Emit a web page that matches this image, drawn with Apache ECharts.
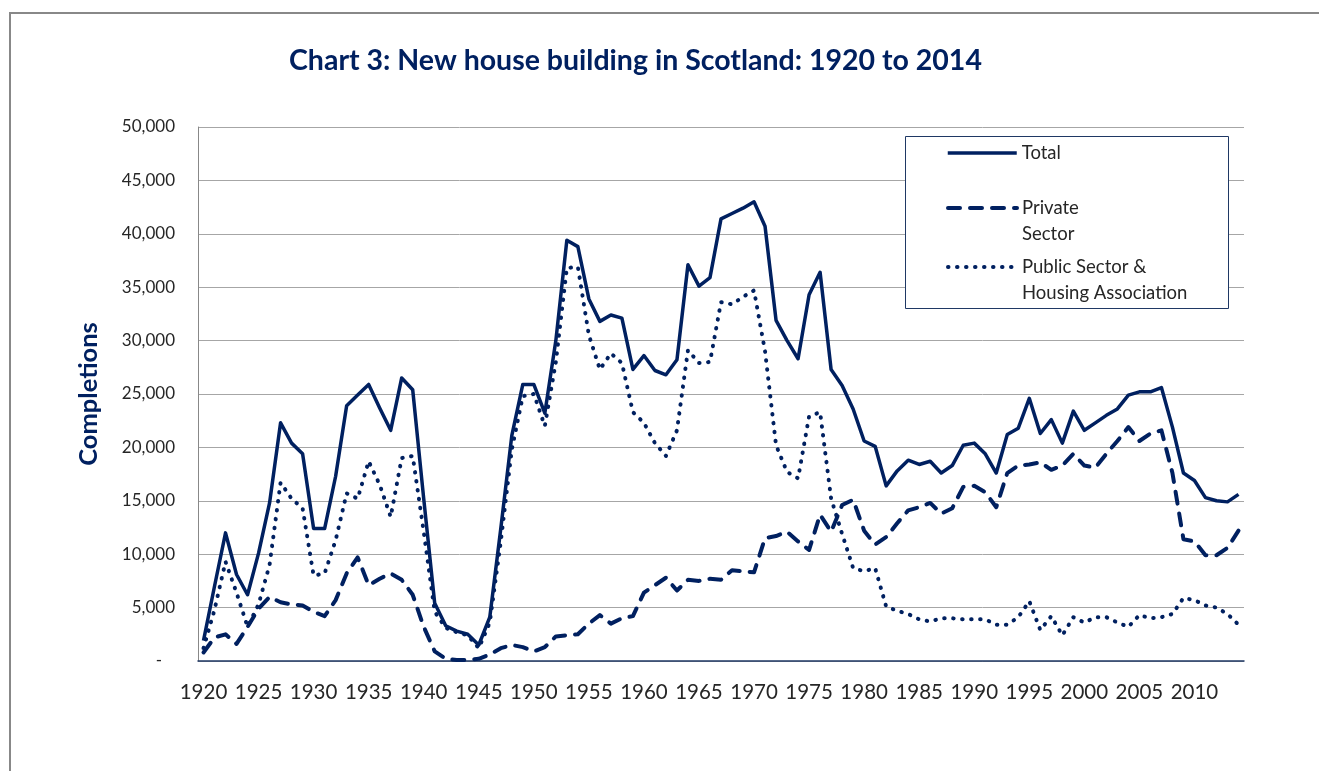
<!DOCTYPE html>
<html>
<head>
<meta charset="utf-8">
<title>New house building in Scotland</title>
<script src="https://cdn.jsdelivr.net/npm/echarts@6/dist/echarts.min.js"></script>
<style>
  html, body { margin: 0; padding: 0; background: #fff; }
  #chart { width: 1319px; height: 771px; }
</style>
</head>
<body>
<div id="chart"></div>
<script>
// years 1920 .. 2014
const years = [];
for (let y = 1920; y <= 2014; y++) years.push(String(y));

const totalData = [
  1900, 7000, 12000, 8100, 6200, 10100, 14800, 22300, 20400, 19400,
  12400, 12400, 17300, 23900, 24900, 25900, 23700, 21600, 26500, 25400,
  15200, 5400, 3300, 2800, 2500, 1500, 4100, 12400, 21100, 25900,
  25900, 23200, 30000, 39400, 38800, 33900, 31800, 32400, 32100, 27300,
  28600, 27200, 26800, 28200, 37100, 35100, 35900, 41400, 41900, 42400,
  43000, 40700, 31900, 30000, 28300, 34300, 36400, 27300, 25800, 23600,
  20600, 20100, 16400, 17800, 18800, 18400, 18700, 17600, 18300, 20200,
  20400, 19400, 17600, 21200, 21800, 24600, 21300, 22600, 20400, 23400,
  21600, 22300, 23000, 23600, 24900, 25200, 25200, 25600, 21900, 17600,
  16900, 15300, 15000, 14900, 15600
];

const privateData = [
  800, 2200, 2500, 1600, 3200, 4900, 6000, 5500, 5300, 5200,
  4600, 4200, 5700, 8200, 9700, 7100, 7700, 8200, 7600, 6200,
  3200, 900, 200, 100, 100, 200, 600, 1200, 1500, 1300,
  900, 1300, 2300, 2400, 2500, 3500, 4300, 3500, 4000, 4200,
  6400, 7100, 7800, 6600, 7600, 7500, 7700, 7600, 8500, 8400,
  8300, 11500, 11700, 12100, 11200, 10400, 13700, 12100, 14600, 15100,
  12200, 10900, 11600, 12900, 14100, 14400, 14800, 13800, 14300, 16300,
  16400, 15800, 14400, 17600, 18300, 18400, 18600, 17900, 18300, 19400,
  18300, 18100, 19400, 20600, 21900, 20600, 21300, 21600, 17600, 11400,
  11200, 9900, 9900, 10600, 12200
];

const publicData = [
  1200, 4800, 9300, 6400, 3200, 5300, 9000, 16700, 15200, 14300,
  8000, 8200, 11300, 15700, 15200, 18700, 16500, 13500, 19000, 19200,
  12100, 4600, 3100, 2700, 2400, 1200, 3600, 11200, 19800, 24800,
  25000, 22000, 28000, 36800, 36900, 30500, 27300, 28800, 27900, 23300,
  22300, 20400, 19200, 21600, 29100, 27900, 28000, 33600, 33400, 34100,
  34700, 29000, 20200, 17700, 17100, 22900, 23300, 15200, 11900, 8700,
  8400, 8700, 5100, 4700, 4400, 3900, 3700, 4000, 4000, 3900,
  3900, 3900, 3400, 3400, 4100, 5600, 2900, 4200, 2400, 4100,
  3600, 4100, 4100, 3600, 3200, 4300, 4000, 4100, 4400, 5900,
  5700, 5200, 5000, 4400, 3400
];

const seriesNames = ['Total', 'Private Sector', 'Public Sector & Housing Association'];
// a blank first line keeps the legend line level with the first line of text
const legendLabels = {
  'Total': 'Total',
  'Private Sector': ' \nPrivate\nSector',
  'Public Sector & Housing Association': ' \nPublic Sector &\nHousing Association'
};

const navy = '#002060';
const font = 'Lato';

const totalLine = { color: navy, width: 3.5, join: 'round' };
const privateLine = { color: navy, width: 4, type: [12, 10], cap: 'round', join: 'round' };
const publicLine = { color: navy, width: 4, type: [0.5, 8.5], cap: 'round', join: 'round' };

const chart = echarts.init(document.getElementById('chart'));

function makeLegend(name, top, lineStyle) {
  return {
    orient: 'vertical',
    left: 946,
    top: top,
    padding: 0,
    z: 20,
    itemWidth: 69,
    itemHeight: 14,
    itemGap: 0,
    data: [name],
    selectedMode: false,
    formatter: n => legendLabels[n],
    lineStyle: lineStyle,
    itemStyle: { color: 'rgba(0,0,0,0)', borderColor: 'rgba(0,0,0,0)', borderWidth: 0 },
    textStyle: {
      fontFamily: font,
      fontSize: 18.5,
      color: '#262626',
      lineHeight: 26
    }
  };
}

chart.setOption({
  animation: false,
  backgroundColor: '#fff',
  title: {
    text: 'Chart 3: New house building in Scotland: 1920 to 2014',
    left: 284,
    top: 41,
    textStyle: {
      fontFamily: font,
      fontWeight: 'bold',
      fontSize: 28.5,
      color: navy
    }
  },
  graphic: [
    {
      // outer chart border (only top and left are inside the picture)
      type: 'rect',
      shape: { x: 10, y: 13, width: 1400, height: 800 },
      style: { fill: 'none', stroke: '#888888', lineWidth: 2 },
      silent: true
    },
    {
      // legend box
      type: 'rect',
      z: 10,
      shape: { x: 905.5, y: 136.5, width: 323, height: 172 },
      style: { fill: '#fff', stroke: '#1F3864', lineWidth: 1 },
      silent: true
    }
  ],
  legend: [
    makeLegend('Total', 140, totalLine),
    makeLegend('Private Sector', 169, privateLine),
    makeLegend('Public Sector & Housing Association', 228, publicLine)
  ],
  grid: {
    left: 198,
    right: 75,
    top: 127,
    bottom: 110
  },
  xAxis: {
    type: 'category',
    data: years,
    boundaryGap: true,
    axisLine: { lineStyle: { color: '#1F3864', width: 1.5 } },
    axisTick: {
      inside: true,
      length: 6,
      interval: 4,
      lineStyle: { color: '#1F3864', width: 1 }
    },
    axisLabel: {
      interval: 4,
      margin: 21,
      fontFamily: font,
      fontSize: 20.5,
      color: '#262626'
    },
    splitLine: { show: false }
  },
  yAxis: {
    type: 'value',
    min: 0,
    max: 50000,
    interval: 5000,
    name: 'Completions',
    nameLocation: 'middle',
    nameRotate: 90,
    nameGap: 96,
    nameTextStyle: {
      fontFamily: font,
      fontWeight: 'bold',
      fontSize: 25.5,
      color: navy
    },
    axisLine: { show: true, lineStyle: { color: '#888888', width: 1 } },
    axisTick: { show: false },
    axisLabel: {
      margin: 23,
      fontFamily: font,
      fontSize: 17,
      color: '#262626',
      formatter: v => v === 0 ? '-   ' : v.toLocaleString('en-GB')
    },
    splitLine: { lineStyle: { color: '#A6A6A6', width: 1 } }
  },
  series: [
    {
      name: seriesNames[0],
      type: 'line',
      data: totalData,
      symbol: 'none',
      z: 3,
      lineStyle: totalLine,
      itemStyle: { color: navy }
    },
    {
      name: seriesNames[1],
      type: 'line',
      data: privateData,
      symbol: 'none',
      z: 2,
      lineStyle: privateLine,
      itemStyle: { color: navy }
    },
    {
      name: seriesNames[2],
      type: 'line',
      data: publicData,
      symbol: 'none',
      z: 2,
      lineStyle: publicLine,
      itemStyle: { color: navy }
    }
  ]
});
</script>
</body>
</html>
